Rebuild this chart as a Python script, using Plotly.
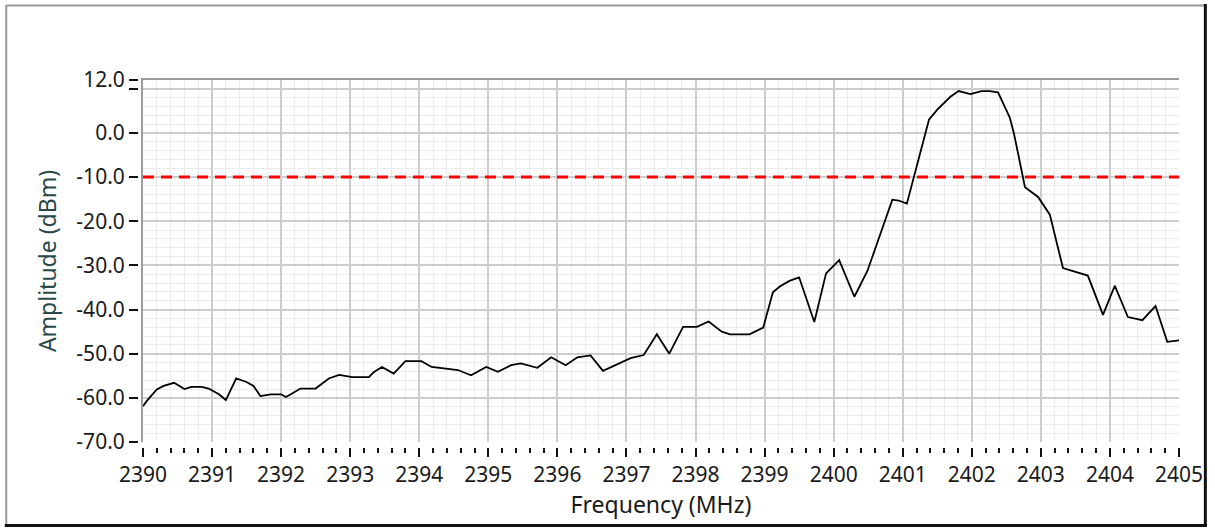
import plotly.graph_objects as go

# ---- data ----
freq_mhz = [2390.00, 2390.05, 2390.20, 2390.30, 2390.45, 2390.60, 2390.70, 2390.85, 2390.95,
            2391.10, 2391.20, 2391.35, 2391.50, 2391.60, 2391.70, 2391.85, 2392.00, 2392.07,
            2392.14, 2392.28, 2392.50, 2392.69, 2392.84, 2393.03, 2393.27, 2393.34, 2393.46,
            2393.63, 2393.80, 2394.03, 2394.18, 2394.37, 2394.56, 2394.75, 2394.97, 2395.14,
            2395.33, 2395.47, 2395.71, 2395.91, 2396.12, 2396.29, 2396.48, 2396.66, 2396.87,
            2397.06, 2397.25, 2397.44, 2397.62, 2397.82, 2398.02, 2398.19, 2398.38, 2398.50,
            2398.78, 2398.98, 2399.12, 2399.22, 2399.36, 2399.50, 2399.72, 2399.89, 2400.08,
            2400.30, 2400.49, 2400.85, 2400.94, 2401.06, 2401.38, 2401.50, 2401.69, 2401.81,
            2401.98, 2402.14, 2402.26, 2402.38, 2402.55, 2402.61, 2402.77, 2402.96, 2403.13,
            2403.32, 2403.49, 2403.68, 2403.90, 2404.07, 2404.26, 2404.47, 2404.66, 2404.83,
            2405.00]
amplitude_dbm = [-61.9, -60.8, -58.1, -57.3, -56.6, -58.0, -57.5, -57.5, -57.9,
                 -59.2, -60.5, -55.6, -56.4, -57.3, -59.6, -59.2, -59.2, -59.8,
                 -59.2, -57.9, -57.9, -55.6, -54.8, -55.3, -55.3, -54.2, -53.0,
                 -54.5, -51.7, -51.7, -53.0, -53.4, -53.7, -54.9, -53.0, -54.1,
                 -52.6, -52.2, -53.2, -50.8, -52.6, -50.8, -50.4, -53.9, -52.3,
                 -51.0, -50.3, -45.6, -50.0, -43.9, -43.9, -42.7, -45.0, -45.6,
                 -45.6, -44.1, -36.1, -34.8, -33.5, -32.7, -42.8, -31.8, -28.8,
                 -37.1, -31.2, -15.1, -15.3, -16.0, 3.0, 5.3, 8.2, 9.5,
                 8.8, 9.5, 9.5, 9.2, 3.5, -0.1, -12.3, -14.5, -18.5,
                 -30.6, -31.4, -32.3, -41.2, -34.6, -41.7, -42.4, -39.2, -47.3,
                 -47.0]
threshold_dbm = -10.0

x_range = [2390, 2405]
y_range = [-70, 12]
x_tick_vals = list(range(2390, 2406))
x_tick_text = [str(v) for v in x_tick_vals]
y_tick_vals = [12, 10, 0, -10, -20, -30, -40, -50, -60, -70]
y_tick_text = ["12.0", "", "0.0", "-10.0", "-20.0", "-30.0", "-40.0", "-50.0", "-60.0", "-70.0"]
y_grid_vals = [10, 0, -10, -20, -30, -40, -50, -60, -70]

# ---- layout geometry ----
W, H = 1215, 529
ML, MR, MT, MB = 138, 30, 80, 82
plot_w = W - ML - MR
plot_h = H - MT - MB
gap = 5
xdom = [gap / plot_w, 1]
ydom = [gap / plot_h, 1]

FONT = "Noto Sans"
TXT = "#1a1a1a"
MAJOR = "#cdcdcd"
MINOR = "#ececec"
TICK_SIZE = 21
TITLE_SIZE = 23

fig = go.Figure()
fig.add_trace(go.Scatter(x=freq_mhz, y=amplitude_dbm, mode="lines",
                         line=dict(color="black", width=1.8), showlegend=False,
                         hoverinfo="skip"))
fig.add_trace(go.Scatter(x=x_range, y=[threshold_dbm, threshold_dbm], mode="lines",
                         line=dict(color="#ff0000", width=3, dash="11px,7px"),
                         showlegend=False, hoverinfo="skip"))
# invisible traces to bind the tick axes
fig.add_trace(go.Scatter(x=x_range, y=y_range, xaxis="x2", yaxis="y", mode="markers",
                         marker=dict(opacity=0), showlegend=False, hoverinfo="skip"))
fig.add_trace(go.Scatter(x=x_range, y=y_range, xaxis="x", yaxis="y2", mode="markers",
                         marker=dict(opacity=0), showlegend=False, hoverinfo="skip"))

fig.update_layout(
    width=W, height=H,
    margin=dict(l=ML, r=MR, t=MT, b=MB),
    paper_bgcolor="white", plot_bgcolor="white",
    font=dict(family=FONT, size=TICK_SIZE, color=TXT),
    xaxis=dict(domain=xdom, range=x_range, side="top", showticklabels=False, ticks="",
               showline=True, linecolor="#9c9c9c", linewidth=2, mirror=False,
               tickvals=x_tick_vals, showgrid=True, gridcolor=MAJOR, gridwidth=1.5,
               zeroline=False,
               minor=dict(dtick=0.2, tick0=2390, showgrid=True, gridcolor=MINOR,
                          gridwidth=1, ticks="")),
    yaxis=dict(domain=ydom, range=y_range, showticklabels=False, ticks="",
               showline=True, linecolor="#9c9c9c", linewidth=2, mirror=False,
               tickmode="array", tickvals=y_grid_vals, showgrid=True, gridcolor=MAJOR,
               gridwidth=1.5, zeroline=False,
               minor=dict(dtick=2, tick0=0, showgrid=True, gridcolor=MINOR,
                          gridwidth=1, ticks="")),
    xaxis2=dict(domain=xdom, range=x_range, overlaying="x", anchor="free", position=0,
                side="bottom", showgrid=False, zeroline=False, showline=False,
                tickmode="array", tickvals=x_tick_vals, ticktext=x_tick_text,
                ticks="outside", ticklen=9, tickwidth=2, tickcolor="#111111",
                tickfont=dict(family=FONT, size=TICK_SIZE, color=TXT),
                minor=dict(dtick=0.2, tick0=2390, ticks="outside", ticklen=5,
                           tickwidth=2, tickcolor="#111111", showgrid=False),
                title=dict(text="Frequency (MHz)", standoff=8,
                           font=dict(family=FONT, size=TITLE_SIZE, color=TXT))),
    yaxis2=dict(domain=ydom, range=y_range, overlaying="y", anchor="free", position=0,
                side="left", showgrid=False, zeroline=False, showline=False,
                tickmode="array", tickvals=y_tick_vals, ticktext=y_tick_text,
                ticks="outside", ticklen=9, tickwidth=2, tickcolor="#111111",
                ticklabelstandoff=0,
                tickfont=dict(family=FONT, size=TICK_SIZE, color=TXT),
                title=dict(text="Amplitude (dBm)", standoff=12,
                           font=dict(family=FONT, size=TITLE_SIZE, color="#2a4848"))),
)

# outer frame (gray top/left, dark right/bottom)
def px_x(p):
    return (p - ML) / plot_w

def px_y(p):
    return (H - MB - p) / plot_h

fig.add_shape(type="line", xref="paper", yref="paper", x0=px_x(5), x1=px_x(1211),
              y0=px_y(5.5), y1=px_y(5.5), line=dict(color="#9a9a9a", width=2))
fig.add_shape(type="line", xref="paper", yref="paper", x0=px_x(5.5), x1=px_x(5.5),
              y0=px_y(5), y1=px_y(525), line=dict(color="#9a9a9a", width=2))
fig.add_shape(type="line", xref="paper", yref="paper", x0=px_x(1211.5), x1=px_x(1211.5),
              y0=px_y(4), y1=px_y(526), line=dict(color="#111111", width=3))
fig.add_shape(type="line", xref="paper", yref="paper", x0=px_x(4), x1=px_x(1213),
              y0=px_y(525.5), y1=px_y(525.5), line=dict(color="#111111", width=3))

fig.write_html("out.html", config={"displayModeBar": False},
               post_script="document.body.style.margin='0px';document.body.style.overflow='hidden';")
